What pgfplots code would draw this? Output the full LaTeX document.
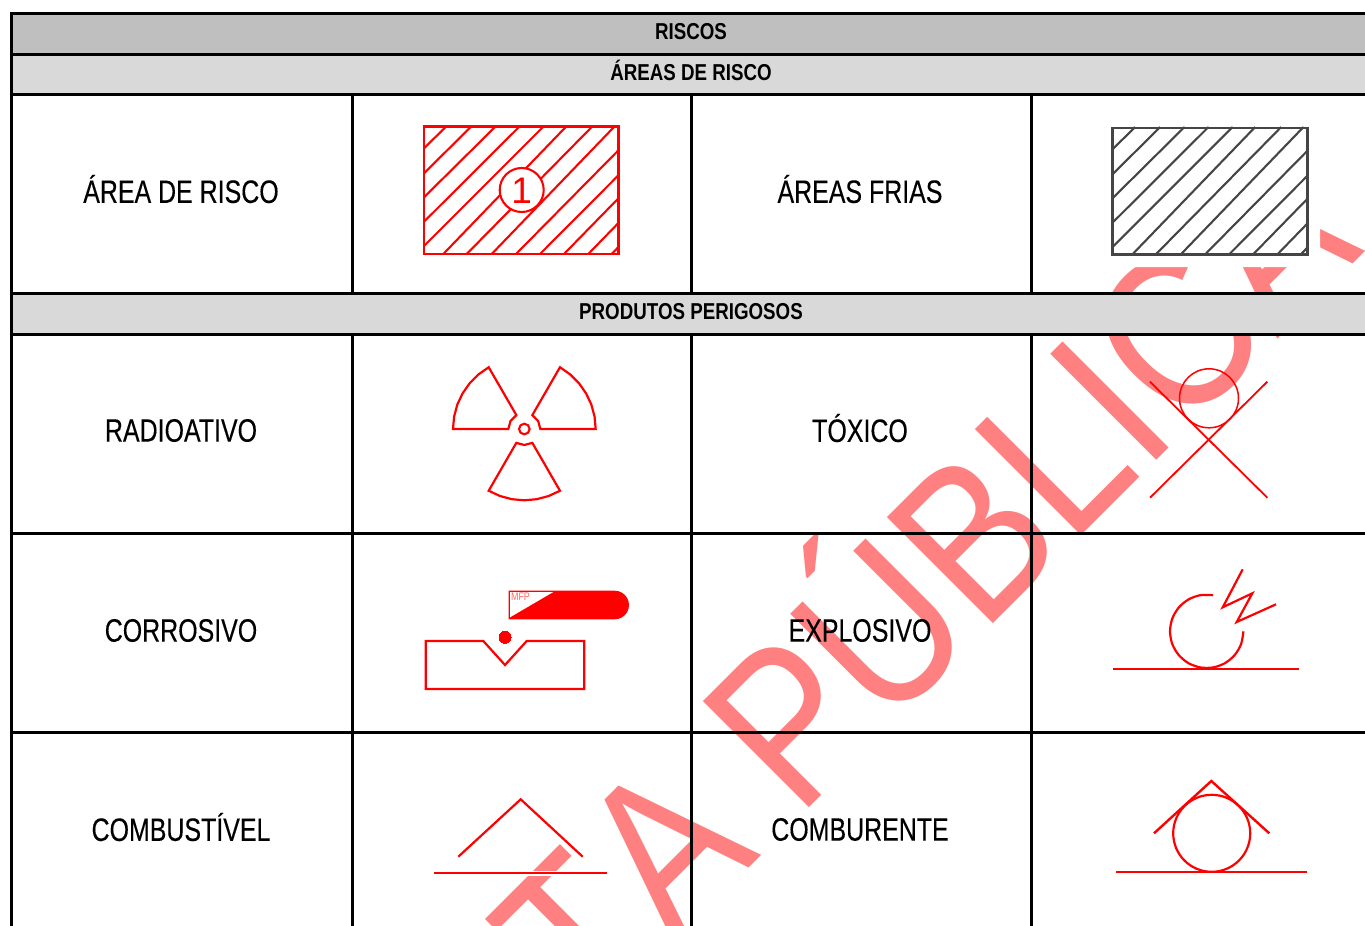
\documentclass[border=0pt]{standalone}
\usepackage{pgfplots}
\pgfplotsset{compat=1.18}
\usepackage{fontspec}
\setmainfont{Liberation Sans}
\newfontfamily\cellf[FakeStretch=0.77,FakeBold=0.25]{Liberation Sans}
\newfontfamily\hdrf[FakeStretch=0.815]{Liberation Sans}
\newfontfamily\wmf[FakeStretch=0.86]{Liberation Sans}
\definecolor{wm}{HTML}{FF8080}
\definecolor{hd}{HTML}{BFBFBF}
\definecolor{sub}{HTML}{D9D9D9}
\definecolor{rd}{HTML}{FF0000}
\definecolor{gy}{HTML}{454545}
\pgfplotsset{
 tl/.style={black,line width=3pt,no marks,forget plot},
 rl/.style={rd,line width=2.2pt,no marks,forget plot,line join=miter},
 hl/.style={rd,line width=2.1pt,no marks,forget plot},
 gl/.style={gy,line width=2.1pt,no marks,forget plot},
 wl/.style={white,line width=5pt,no marks,forget plot},
 fl/.style={draw=none,no marks,forget plot},
}
\newcommand{\cell}[3]{\node[inner sep=0pt,anchor=center,black] at (axis cs:#1,#2) {\cellf\fontsize{32.4}{32.4}\selectfont #3};}
\newcommand{\hdr}[2]{\node[inner sep=0pt,anchor=center,black] at (axis cs:691,#1) {\hdrf\bfseries\fontsize{23}{23}\selectfont #2};}
\begin{document}
\begin{tikzpicture}
\path[use as bounding box] (0,0) rectangle (1365pt,926pt);
\begin{axis}[at={(0,0)},anchor=south west,scale only axis,width=1365pt,height=926pt,
 xmin=0,xmax=1365,ymin=0,ymax=926,y dir=reverse,hide axis,clip=true]
% watermark
\node[inner sep=0pt,anchor=base east,rotate=45,text=wm] at (axis cs:1366,251) {\wmf\fontsize{218}{218}\selectfont CONSULT\kern6pt A PÚBLICA};
% fills
\addplot[fl,fill=hd] coordinates {(11,13)(1365,13)(1365,54)(11,54)(11,13)};
\addplot[fl,fill=sub] coordinates {(11,54)(1365,54)(1365,94)(11,94)(11,54)};
\addplot[fl,fill=sub] coordinates {(11,293)(1365,293)(1365,334)(11,334)(11,293)};
\addplot[fl,fill=white] coordinates {(1100,110)(1320,110)(1320,267)(1100,267)(1100,110)};
% table rules
\addplot[tl] coordinates {(10,13.5)(1365,13.5)};
\addplot[tl] coordinates {(10,54)(1365,54)};
\addplot[tl] coordinates {(10,94.5)(1365,94.5)};
\addplot[tl] coordinates {(10,293.5)(1365,293.5)};
\addplot[tl] coordinates {(10,334)(1365,334)};
\addplot[tl] coordinates {(10,533)(1365,533)};
\addplot[tl] coordinates {(10,732)(1365,732)};
\addplot[tl] coordinates {(11,13)(11,926)};
\addplot[tl] coordinates {(352,94)(352,293)};
\addplot[tl] coordinates {(691.5,94)(691.5,293)};
\addplot[tl] coordinates {(1031.5,94)(1031.5,293)};
\addplot[tl] coordinates {(352,334)(352,926)};
\addplot[tl] coordinates {(691.5,334)(691.5,926)};
\addplot[tl] coordinates {(1031.5,334)(1031.5,926)};
% texts
\hdr{31.5}{RISCOS}
\hdr{70.5}{ÁREAS DE RISCO}
\hdr{311.5}{PRODUTOS PERIGOSOS}
\cell{181}{189}{ÁREA DE RISCO}
\cell{860}{189}{ÁREAS FRIAS}
\cell{181}{430.5}{RADIOATIVO}
\cell{860}{428}{TÓXICO}
\cell{181}{630.5}{CORROSIVO}
\cell{860}{630.5}{EXPLOSIVO}
\cell{181}{827}{COMBUSTÍVEL}
\cell{860}{829.5}{COMBURENTE}
% red hatched area
\addplot[hl] coordinates {(424,148.3)(446.7,126)};
\addplot[hl] coordinates {(424,173.3)(471.7,126)};
\addplot[hl] coordinates {(424,197.3)(496,126)};
\addplot[hl] coordinates {(424,221.7)(520,126)};
\addplot[hl] coordinates {(424,246)(544,126)};
\addplot[hl] coordinates {(443.3,254)(566.7,126)};
\addplot[hl] coordinates {(466.7,254)(592.7,126)};
\addplot[hl] coordinates {(491.7,254)(615,126)};
\addplot[hl] coordinates {(516,254)(618.7,150)};
\addplot[hl] coordinates {(540,254)(618.7,175)};
\addplot[hl] coordinates {(564,254)(618.7,198)};
\addplot[hl] coordinates {(588.3,254)(618.7,222.7)};
\addplot[hl] coordinates {(611.7,254)(618.7,246.7)};
\addplot[rl,line width=2.5pt] coordinates {(424,126.5)(618.7,126.5)(618.7,254)(424,254)(424,126.5)(618.7,126.5)};
\addplot[only marks,mark=*,mark size=22pt,mark options={draw=rd,fill=white,line width=2.1pt},forget plot,
 nodes near coords={\fontsize{37}{37}\selectfont 1},
 every node near coord/.append style={anchor=center,inner sep=0pt,text=rd,yshift=-1pt}] coordinates {(521.7,190)};
% grey hatched area
\addplot[gl] coordinates {(1112.5,149.3)(1135.2,127)};
\addplot[gl] coordinates {(1112.5,174.3)(1160.2,127)};
\addplot[gl] coordinates {(1112.5,198.3)(1184.5,127)};
\addplot[gl] coordinates {(1112.5,222.7)(1208.5,127)};
\addplot[gl] coordinates {(1112.5,247)(1232.5,127)};
\addplot[gl] coordinates {(1131.8,255)(1255.2,127)};
\addplot[gl] coordinates {(1155.2,255)(1281.2,127)};
\addplot[gl] coordinates {(1180.2,255)(1303.5,127)};
\addplot[gl] coordinates {(1204.5,255)(1307.2,151)};
\addplot[gl] coordinates {(1228.5,255)(1307.2,176)};
\addplot[gl] coordinates {(1252.5,255)(1307.2,199)};
\addplot[gl] coordinates {(1276.8,255)(1307.2,223.7)};
\addplot[gl] coordinates {(1300.2,255)(1307.2,247.7)};
\addplot[gl,line width=2.6pt] coordinates {(1112.5,128)(1307.2,128)(1307.2,254.7)(1112.5,254.7)(1112.5,128)(1307.2,128)};
% radioactive
\addplot[rl] coordinates {(453,429)(454.1,416.6)(457.3,404.6)(462.6,393.35)(469.7,383.2)(478.5,374.4)(488.7,367.25)(516.33,415.1)(510.5,421)(508.33,429)(453,429)(454.1,416.6)};
\addplot[rl] coordinates {(595.66,429)(594.56,416.6)(591.36,404.6)(586.06,393.35)(578.96,383.2)(570.16,374.4)(559.96,367.25)(532.33,415.1)(538.16,421)(540.33,429)(595.66,429)(594.56,416.6)};
\addplot[rl] coordinates {(488.68,490.75)(499.95,496)(511.95,499.2)(524.33,500.3)(536.71,499.2)(548.71,496)(559.98,490.75)(532.33,442.86)(524.33,445)(516.33,442.86)(488.68,490.75)(499.95,496)};
\addplot[only marks,mark=o,mark size=5.3pt,mark options={draw=rd,line width=2.1pt},forget plot] coordinates {(524.33,429)};
% toxic
\addplot[rl,line width=1.8pt] coordinates {(1150,381.7)(1267.3,497.7)};
\addplot[rl,line width=1.8pt] coordinates {(1267.3,381.7)(1150,497.7)};
\addplot[only marks,mark=o,mark size=29.5pt,mark options={draw=rd,line width=1.5pt},forget plot] coordinates {(1209,398.3)};
% corrosive
\addplot[rl] coordinates {(425.7,641)(483.3,641)(505,665)(526.7,641)(584.3,641)(584.3,689)(425.7,689)(425.7,641)(483.3,641)};
\addplot[only marks,mark=*,mark size=6pt,mark options={draw=rd,fill=rd,line width=0pt},forget plot] coordinates {(505,637.3)};
\addplot[fl,fill=rd] coordinates {(508.7,590.7)(614.7,590.7)(618.4,591.2)(621.85,592.6)(624.8,594.9)(627.1,597.85)(628.5,601.3)(629,605)(628.5,608.7)(627.1,612.15)(624.8,615.1)(621.85,617.4)(618.4,618.8)(614.7,619.3)(508.7,619.3)(508.7,590.7)};
\addplot[fl,fill=white] coordinates {(510,592)(553.3,592)(510,617.3)(510,592)};
\node[inner sep=0pt,anchor=center,text=rd!60!white] at (axis cs:520.5,597) {\hdrf\fontsize{11}{11}\selectfont MFP};
% explosive
\addplot[rl,line width=2.4pt] coordinates {(1113.3,668.7)(1299.3,668.7)};
\addplot[rl,smooth] coordinates {(1213.07,595.16)(1200.33,595.16)(1188.35,599.52)(1178.59,607.71)(1172.21,618.75)(1170,631.3)(1172.21,643.85)(1178.59,654.89)(1188.35,663.08)(1200.33,667.44)(1213.07,667.44)(1225.05,663.08)(1234.81,654.89)(1241.19,643.85)(1243.4,631.3)};
\addplot[rl] coordinates {(1242.7,569.3)(1222.7,607.3)(1252.3,593.3)(1236.7,622)(1276,604.3)};
% combustible
\addplot[wl] coordinates {(434,873.3)(606.7,873.3)};
\addplot[white,line width=5pt,no marks,forget plot] coordinates {(560,836)(582.7,856.7)};
\addplot[rl] coordinates {(458.3,856.7)(520.7,799.3)(582.7,856.7)};
\addplot[rl] coordinates {(434,873.3)(606.7,873.3)};
% oxidising
\addplot[rl,line width=2.4pt] coordinates {(1154,833.3)(1211.3,781)(1269.3,833.3)};
\addplot[rl,line width=2.4pt] coordinates {(1115.7,872)(1307.3,872)};
\addplot[only marks,mark=o,mark size=38.5pt,mark options={draw=rd,line width=2.2pt},forget plot] coordinates {(1211.7,833.3)};
\end{axis}
\end{tikzpicture}
\end{document}
